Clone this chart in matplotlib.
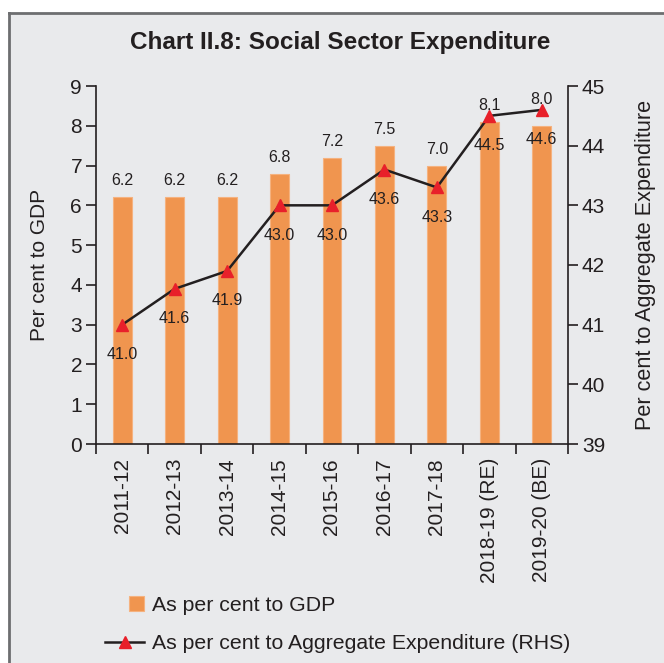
import matplotlib
matplotlib.use("Agg")
import matplotlib.pyplot as plt
from matplotlib.patches import Rectangle
from matplotlib.lines import Line2D
from matplotlib.legend_handler import HandlerPatch
import numpy as np

categories = ["2011-12", "2012-13", "2013-14", "2014-15", "2015-16", "2016-17",
              "2017-18", "2018-19 (RE)", "2019-20 (BE)"]
gdp_share = [6.2, 6.2, 6.2, 6.8, 7.2, 7.5, 7.0, 8.1, 8.0]
agg_share = [41.0, 41.6, 41.9, 43.0, 43.0, 43.6, 43.3, 44.5, 44.6]

plt.rcParams['font.family'] = ['Liberation Sans', 'DejaVu Sans']

W, H = 664, 663
fig = plt.figure(figsize=(W / 100, H / 100), dpi=100, facecolor='white')

bg = '#e9eaec'
fig.add_artist(Rectangle((9 / W, 0), 1 - 9 / W, 1 - 13 / H, transform=fig.transFigure,
                         facecolor=bg, edgecolor='none', zorder=-10))
fig.add_artist(Line2D([9 / W, 9 / W], [0, 1 - 13 / H], transform=fig.transFigure,
                      color='#6d6e70', lw=2))
fig.add_artist(Line2D([9 / W, 1], [1 - 13 / H, 1 - 13 / H], transform=fig.transFigure,
                      color='#6d6e70', lw=2))

left, right = 96 / W, 568 / W
bottom, top = 1 - 444 / H, 1 - 86 / H
ax = fig.add_axes([left, bottom, right - left, top - bottom])
ax.set_facecolor('none')
ax2 = ax.twinx()
ax2.set_facecolor('none')

x = np.arange(len(categories))
bar_color = '#f0954f'
bars = ax.bar(x, gdp_share, width=0.36, color=bar_color, edgecolor='#f5b27f',
              linewidth=0.8, zorder=2, label='As per cent to GDP')
ax.set_xlim(-0.5, len(categories) - 0.5)
ax.set_ylim(0, 9)
ax.set_yticks(range(0, 10))

# label offsets (pixels above bar top)
bar_label_offsets = [9, 9, 9, 9, 9, 9, 9, 9, 19]
for xi, v, off in zip(x, gdp_share, bar_label_offsets):
    ax.annotate(f"{v:.1f}", (xi, v), xytext=(0, off), textcoords='offset pixels',
                ha='center', va='bottom', fontsize=11.5, color='#231f20')

line, = ax2.plot(x, agg_share, color='#231f20', lw=1.8, marker='^', markersize=9,
                 markerfacecolor='#e8202a', markeredgecolor='#e8202a', zorder=3,
                 label='As per cent to Aggregate Expenditure (RHS)')
ax2.set_ylim(39, 45)
ax2.set_yticks(range(39, 46))
for xi, v in zip(x, agg_share):
    ax2.annotate(f"{v:.1f}", (xi, v), xytext=(0, -30), textcoords='offset pixels',
                 ha='center', va='center', fontsize=11.5, color='#231f20')

# x ticks at category boundaries
ax.set_xticks(x)
ax.set_xticklabels(categories, rotation=90, fontsize=15, color='#231f20')
ax.tick_params(axis='x', length=0, pad=10)
ax.set_xticks(np.arange(-0.5, len(categories), 1.0), minor=True)
ax.tick_params(axis='x', which='minor', length=7, width=1.2, direction='out', color='#231f20')

for a in (ax, ax2):
    for s in a.spines.values():
        s.set_visible(False)
ax.spines['left'].set_visible(True)
ax.spines['bottom'].set_visible(True)
ax2.spines['right'].set_visible(True)
for s in (ax.spines['left'], ax.spines['bottom'], ax2.spines['right']):
    s.set_color('#231f20')
    s.set_linewidth(1.2)

ax.tick_params(axis='y', length=7, width=1.2, labelsize=15, colors='#231f20', pad=3)
ax2.tick_params(axis='y', length=7, width=1.2, labelsize=15, colors='#231f20', pad=3)

ax.set_ylabel("Per cent to GDP", fontsize=15, color='#231f20', labelpad=15.5)
ax2.set_ylabel("Per cent to Aggregate Expenditure", fontsize=15.6, color='#231f20', labelpad=21.5)

fig.text(340 / W, 1 - 43 / H, "Chart II.8: Social Sector Expenditure", ha='center',
         va='center', fontsize=17.5, fontweight='bold', color='#231f20')


def square_patch(legend, orig_handle, xdescent, ydescent, width, height, fontsize):
    s = 15.5 * 72 / 100
    return Rectangle((width - s - xdescent, -ydescent + (height - s) / 2), s, s)


bar_handle = bars.patches[0]
leg = fig.legend(handles=[bar_handle, line],
                 labels=['As per cent to GDP', 'As per cent to Aggregate Expenditure (RHS)'],
                 loc='upper left',
                 bbox_to_anchor=(105 / W, 1 - 596 / H), frameon=False, fontsize=15.3,
                 borderpad=0, borderaxespad=0,
                 handlelength=1.85, handletextpad=0.38, labelspacing=0.9,
                 handler_map={bar_handle: HandlerPatch(patch_func=square_patch)})
for t in leg.get_texts():
    t.set_color('#231f20')

fig.savefig("out.png", dpi=100, facecolor='white')
